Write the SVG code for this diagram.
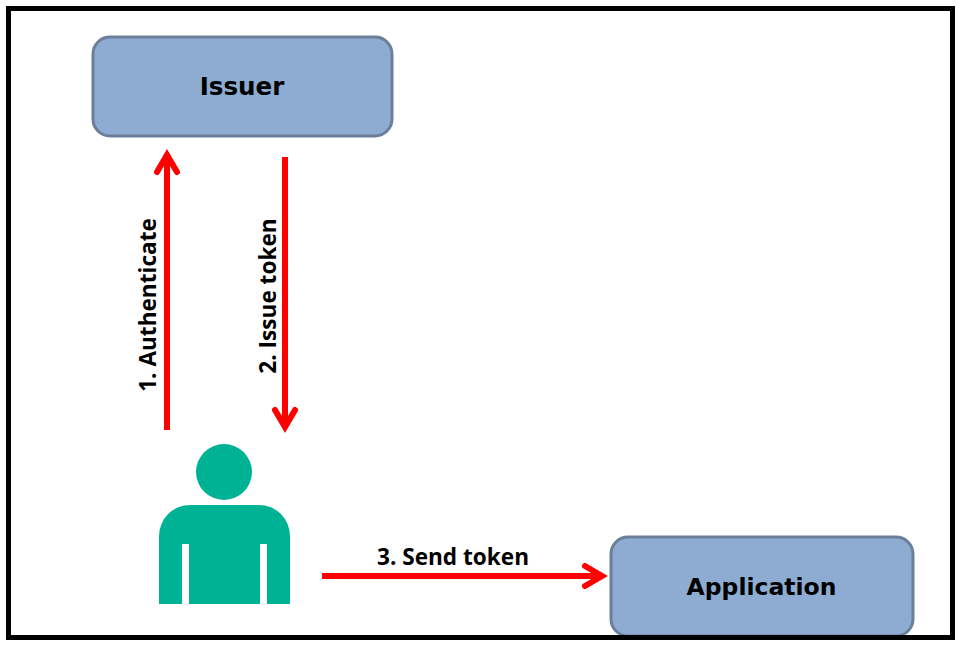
<svg xmlns="http://www.w3.org/2000/svg" width="960" height="645" viewBox="0 0 960 645">
<style>
.box{fill:#8eacd1;stroke:#6b7f9b;stroke-width:3}
.title{font-family:"DejaVu Sans",Verdana,sans-serif;font-weight:700;font-size:23.5px;fill:#000;text-anchor:middle}
.lbl{font-family:"Open Sans","Noto Sans",sans-serif;font-weight:700;font-size:22.6px;fill:#000;text-anchor:middle}
.conn{fill:none;stroke:#f00;stroke-width:6}
.head{fill:none;stroke:#f00;stroke-width:6;stroke-linecap:round;stroke-linejoin:miter}
</style>
<rect x="0" y="0" width="960" height="645" fill="#fff"/>
<g id="issuer"><rect class="box" x="93" y="37" width="299" height="99" rx="17"/><text class="title" x="242" y="95" style="font-size:24.6px">Issuer</text></g>
<g id="application"><rect class="box" x="611" y="537" width="302" height="99" rx="17"/><text class="title" x="761.500" y="595">Application</text></g>
<g id="user" fill="#00b294">
<circle cx="224" cy="472" r="28"/>
<path d="M159 604V536A31 31 0 0 1 190 505H259A31 31 0 0 1 290 536V604H267V544H260V604H189V544H182V604Z"/>
</g>
<g id="connectors">
<path class="conn" d="M167 430V156"/><path class="head" d="M157 172L167 155L177 172"/>
<path class="conn" d="M285 157V426"/><path class="head" d="M275 410L285 427L295 410"/>
<path class="conn" d="M322 576H602"/><path class="head" d="M585 566L602 576L585 586"/>
<text class="lbl" transform="translate(156,305) rotate(-90)">1. Authenticate</text>
<text class="lbl" transform="translate(276,296) rotate(-90)">2. Issue token</text>
<text class="lbl" x="453" y="565">3. Send token</text>
</g>
<rect id="frame" x="8.500" y="8.500" width="944" height="629" fill="none" stroke="#000" stroke-width="5"/>
</svg>
